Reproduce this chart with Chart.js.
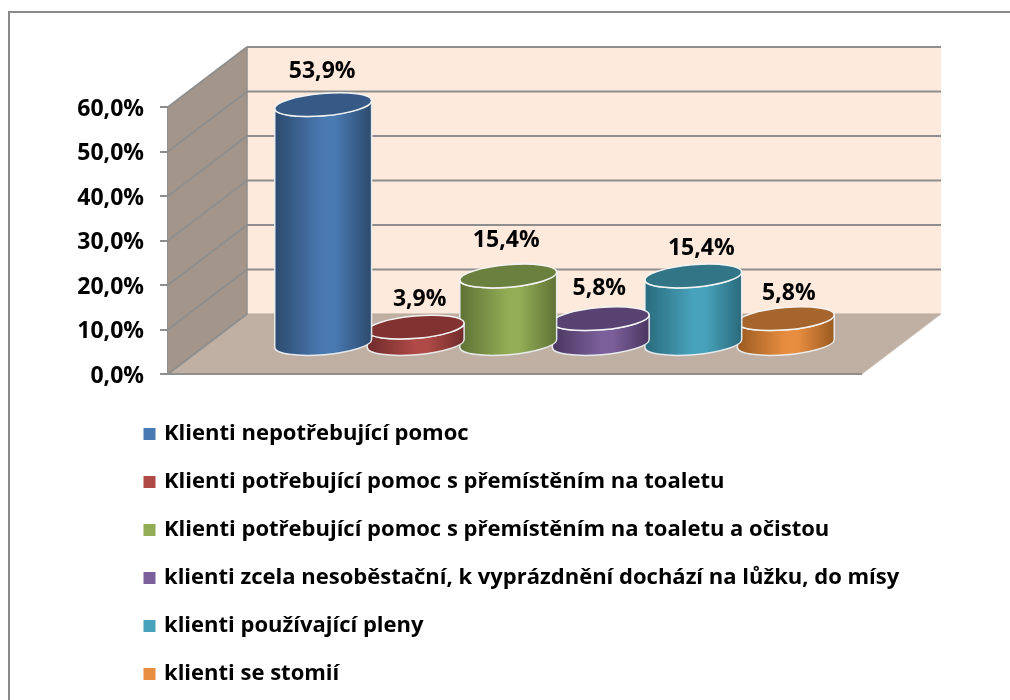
<!DOCTYPE html>
<html><head><meta charset="utf-8">
<style>html,body{margin:0;padding:0;background:#fff}canvas{display:block}</style>
<script src="https://cdn.jsdelivr.net/npm/chart.js@4/dist/chart.umd.min.js"></script>
</head><body><canvas id="c" width="1010" height="700"></canvas>
<script>
const seriesNames = [
  'Klienti nepotřebující pomoc',
  'Klienti potřebující pomoc s přemístěním na toaletu',
  'Klienti potřebující pomoc s přemístěním na toaletu a očistou',
  'klienti zcela nesoběstační, k vyprázdnění dochází na lůžku, do mísy',
  'klienti používající pleny',
  'klienti se stomií'
];
const seriesValues = [53.9, 3.9, 15.4, 5.8, 15.4, 5.8];
const midColors  = ['#4a7ab2','#b04a47','#93ad56','#7b5f9a','#47a3bc','#e88e41'];
const edgeColors = ['#2c4a6e','#6f2b2a','#5e7235','#493660','#2a6a7c','#9a5a20'];
const capColors  = ['#365a85','#813231','#6b7f3e','#584271','#327587','#a6652d'];
const labelDx = [-1, 4, -2, -1.5, 8, 3];
const labelDy = [-33, -27, -35, -30, -27.5, -25];

const FONT = '"Open Sans"';
const GRID = '#8e8e8e';
const DEPTH_X = 79, DEPTH_Y = 60;

const fmt = v => v.toFixed(1).replace('.', ',') + '%';

function poly(ctx, pts, fill) {
  ctx.beginPath();
  pts.forEach((p, i) => i ? ctx.lineTo(p[0], p[1]) : ctx.moveTo(p[0], p[1]));
  ctx.closePath();
  ctx.fillStyle = fill;
  ctx.fill();
}
function line(ctx, x1, y1, x2, y2, w, col) {
  ctx.beginPath(); ctx.moveTo(x1, y1); ctx.lineTo(x2, y2);
  ctx.lineWidth = w; ctx.strokeStyle = col; ctx.stroke();
}

const scene = {
  id: 'scene',
  afterLayout(chart) {
    const l = chart.legend;
    l.maxHeight = 500; l.maxWidth = 950;
    l.fit();
    l.left = 120; l.right = l.left + l.width;
    l.top = 397; l.bottom = 900;
  },
  beforeDatasetsDraw(chart) {
    const { ctx, chartArea: a, scales: { y } } = chart;
    ctx.save();
    // outer frame
    line(ctx, 9, 12, 1010, 12, 2, '#8a8a8a');
    line(ctx, 9, 11, 9, 700, 2, '#8a8a8a');
    const L = a.left, R = a.right, B = y.getPixelForValue(0), T = y.getPixelForValue(60);
    // walls
    poly(ctx, [[L+DEPTH_X,T-DEPTH_Y],[R+DEPTH_X,T-DEPTH_Y],[R+DEPTH_X,B-DEPTH_Y],[L+DEPTH_X,B-DEPTH_Y]], '#fdeadc');
    poly(ctx, [[L,B],[R,B],[R+DEPTH_X,B-DEPTH_Y],[L+DEPTH_X,B-DEPTH_Y]], '#bfb0a3');
    poly(ctx, [[L,T],[L+DEPTH_X,T-DEPTH_Y],[L+DEPTH_X,B-DEPTH_Y],[L,B]], '#a39589');
    // gridlines
    y.ticks.forEach(t => {
      const py = y.getPixelForValue(t.value);
      if (t.value > 0) line(ctx, L+DEPTH_X, py-DEPTH_Y, R+DEPTH_X, py-DEPTH_Y, 2, GRID);
      else line(ctx, L+DEPTH_X, py-DEPTH_Y, R+DEPTH_X, py-DEPTH_Y, 1, '#b5a89c');
      line(ctx, L, py, L+DEPTH_X, py-DEPTH_Y, 1.8, GRID);
    });
    line(ctx, L+DEPTH_X, T-DEPTH_Y, L+DEPTH_X, B-DEPTH_Y, 1.5, GRID);
    line(ctx, L, B, R, B, 2, GRID);
    line(ctx, R, B, R+DEPTH_X, B-DEPTH_Y, 1, '#cfc4ba');
    ctx.restore();
  },
  beforeDatasetDraw(chart, args) {
    const i = args.index, bar = args.meta.data[0];
    const { ctx } = chart;
    const cx = bar.x + DEPTH_X / 2, topY = bar.y - DEPTH_Y / 2 + 0.5, baseY = bar.base - DEPTH_Y / 2 + 0.5;
    const ra = bar.width * 0.525, rb = 11.2, rot = -0.085;
    const ex = ra * Math.cos(rot), ey = ra * Math.sin(rot);
    ctx.save();
    const g = ctx.createLinearGradient(cx - ex, 0, cx + ex, 0);
    g.addColorStop(0, edgeColors[i]);
    g.addColorStop(0.5, midColors[i]);
    g.addColorStop(0.62, midColors[i]);
    g.addColorStop(1, edgeColors[i]);
    ctx.beginPath();
    ctx.ellipse(cx, baseY, ra, rb, rot, 0, Math.PI);
    ctx.lineTo(cx - ex, topY - ey);
    ctx.ellipse(cx, topY, ra, rb, rot, Math.PI, 0, true);
    ctx.closePath();
    ctx.fillStyle = g; ctx.fill();
    ctx.lineWidth = 1.5; ctx.strokeStyle = 'rgba(235,238,240,0.95)'; ctx.stroke();
    ctx.beginPath();
    ctx.ellipse(cx, topY, ra, rb, rot, 0, Math.PI * 2);
    ctx.fillStyle = capColors[i]; ctx.fill();
    ctx.lineWidth = 1.5; ctx.strokeStyle = 'rgba(245,245,245,0.98)'; ctx.stroke();
    ctx.restore();
    return false;
  },
  afterDatasetsDraw(chart) {
    const { ctx } = chart;
    ctx.save();
    ctx.font = 'bold 23px ' + FONT;
    ctx.fillStyle = '#000';
    ctx.textAlign = 'center'; ctx.textBaseline = 'middle';
    chart.data.datasets.forEach((ds, i) => {
      const bar = chart.getDatasetMeta(i).data[0];
      ctx.fillText(fmt(ds.data[0]), bar.x + DEPTH_X / 2 + labelDx[i], bar.y - DEPTH_Y / 2 + labelDy[i]);
    });
    ctx.restore();
  }
};

new Chart(document.getElementById('c'), {
  type: 'bar',
  data: {
    labels: [''],
    datasets: seriesNames.map((n, i) => ({
      label: n, data: [seriesValues[i]], backgroundColor: midColors[i], borderWidth: 0
    }))
  },
  plugins: [scene],
  options: {
    responsive: false,
    animation: false,
    layout: { padding: { top: 107, bottom: 326, left: 0, right: 148 } },
    datasets: { bar: { categoryPercentage: 0.8, barPercentage: 1 } },
    plugins: {
      tooltip: { enabled: false },
      legend: {
        position: 'chartArea', align: 'start',
        labels: {
          usePointStyle: true, pointStyle: 'rect',
          boxWidth: 7, boxHeight: 12, padding: 26, color: '#000',
          font: { family: FONT, size: 22, weight: 'bold' }
        }
      }
    },
    scales: {
      x: { display: false },
      y: {
        min: 0, max: 60,
        afterFit(s) { s.width = 168; },
        ticks: {
          stepSize: 10, padding: 16, labelOffset: 2, color: '#000',
          font: { family: FONT, size: 23, weight: 'bold' },
          callback: v => fmt(v)
        },
        grid: { display: true, drawOnChartArea: false, drawTicks: true, tickLength: 8, color: GRID, lineWidth: 2 },
        border: { display: true, color: GRID, width: 2 }
      }
    }
  }
});
</script></body></html>
